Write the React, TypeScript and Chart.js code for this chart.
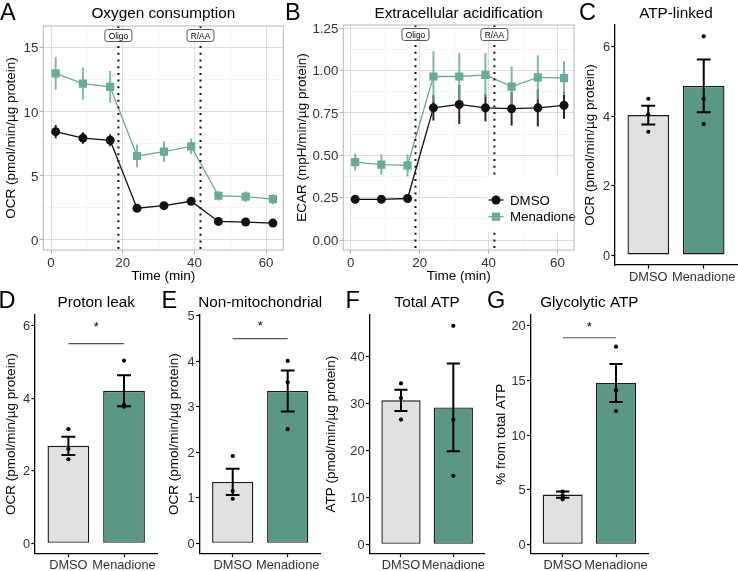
import React, { useEffect, useRef } from "react";
import { Chart, registerables } from "chart.js";

Chart.register(...registerables);

const W = 738;
const H = 571;
const FONT = "'Liberation Sans', Arial, Helvetica, sans-serif";
const TICK_COLOR = "#333333";

// ---------------- data ----------------
const groups = ["DMSO", "Menadione"];
const groupPos = [1, 2];

const timeMin = [1.3, 8.9, 16.5, 24.0, 31.5, 39.1, 46.7, 54.3, 61.9];
const injections = ["Oligo", "R/AA"];
const injectionTime = [18.8, 41.7];

const ocrDmso = [8.45, 7.95, 7.78, 2.48, 2.68, 3.02, 1.45, 1.4, 1.32];
const ocrDmsoSe = [0.52, 0.45, 0.47, 0.15, 0.15, 0.2, 0.12, 0.1, 0.1];
const ocrMena = [13.0, 12.2, 11.95, 6.55, 6.9, 7.3, 3.45, 3.38, 3.18];
const ocrMenaSe = [1.27, 1.25, 1.23, 0.88, 0.8, 0.6, 0.38, 0.4, 0.38];

const ecarDmso = [0.24, 0.24, 0.245, 0.78, 0.8, 0.78, 0.775, 0.78, 0.795];
const ecarDmsoSe = [0.012, 0.012, 0.012, 0.075, 0.115, 0.08, 0.1, 0.11, 0.08];
const ecarMena = [0.46, 0.445, 0.44, 0.965, 0.965, 0.975, 0.905, 0.96, 0.955];
const ecarMenaSe = [0.05, 0.06, 0.065, 0.15, 0.14, 0.13, 0.12, 0.13, 0.1];

const timeTicks = [0, 10, 20, 30, 40, 50, 60];
const ocrTicks = [0, 2.5, 5, 7.5, 10, 12.5, 15];
const ecarTicks = [0, 0.125, 0.25, 0.375, 0.5, 0.625, 0.75, 0.875, 1, 1.125, 1.25];

const atpLinkedMean = [4.03, 4.87];
const atpLinkedSe = [0.27, 0.76];
const atpLinkedDmsoPts = [4.5, 4.05, 3.55];
const atpLinkedMenaPts = [6.3, 4.5, 3.77];
const atpLinkedTicks = [0, 2, 4, 6];

const protonLeakMean = [2.69, 4.21];
const protonLeakSe = [0.25, 0.43];
const protonLeakDmsoPts = [3.15, 2.6, 2.32];
const protonLeakMenaPts = [5.04, 3.82, 3.77];
const protonLeakTicks = [0, 2, 4, 6];
const protonLeakSig = [5.51, 6.07];

const nonMitoMean = [1.35, 3.35];
const nonMitoSe = [0.29, 0.45];
const nonMitoDmsoPts = [1.92, 1.15, 0.98];
const nonMitoMenaPts = [4.01, 3.54, 2.51];
const nonMitoTicks = [0, 1, 2, 3, 4, 5];
const nonMitoSig = [4.5, 4.85];

const totalAtpMean = [30.7, 29.2];
const totalAtpSe = [2.25, 9.35];
const totalAtpDmsoPts = [34.3, 31.2, 26.6];
const totalAtpMenaPts = [46.6, 26.6, 14.6];
const totalAtpTicks = [0, 10, 20, 30, 40];

const glycoMean = [4.55, 14.76];
const glycoSe = [0.28, 1.74];
const glycoDmsoPts = [4.82, 4.45, 4.12];
const glycoMenaPts = [18.08, 14.09, 12.2];
const glycoTicks = [0, 5, 10, 15, 20];
const glycoSig = [18.9, 20.2];

// ---------------- styles ----------------
const DMSO_LINE = "#111111";
const MENA_LINE = "#69aa9a";
const DMSO_BAR = "#e1e2df";
const MENA_BAR = "#5a9787";

const panelA: any = {
  kind: "line",
  letter: "A", letterX: 0, letterY: 19.5,
  title: "Oxygen consumption", titleY: 17.5,
  yTitle: "OCR (pmol/min/µg protein)", yTitleX: 11.5,
  plot: { l: 43.3, t: 26, r: 283.3, b: 250 },
  xMin: -2.15, xMax: 64.8, yMin: -0.78, yMax: 16.69,
  xTicks: timeTicks, yTicks: ocrTicks,
  xMajor: (v: number) => v % 20 === 0,
  yMajor: (v: number) => v % 5 === 0,
  yFmt: (v: number) => String(v),
  series: [
    { name: "DMSO", y: ocrDmso, se: ocrDmsoSe, color: DMSO_LINE, err: "rgba(17,17,17,0.9)", shape: "circle" },
    { name: "Menadione", y: ocrMena, se: ocrMenaSe, color: MENA_LINE, err: "rgba(105,170,154,0.85)", shape: "rect" },
  ],
  legend: null,
};

const panelB: any = {
  kind: "line",
  letter: "B", letterX: 285, letterY: 19.5,
  title: "Extracellular acidification", titleY: 17.5,
  yTitle: "ECAR (mpH/min/µg protein)", yTitleX: 302,
  plot: { l: 343.3, t: 25, r: 574, b: 250 },
  xMin: -2.15, xMax: 64.8, yMin: -0.059, yMax: 1.269,
  xTicks: timeTicks, yTicks: ecarTicks,
  xMajor: (v: number) => v % 20 === 0,
  yMajor: (v: number) => Math.abs(v * 4 - Math.round(v * 4)) < 1e-9,
  yFmt: (v: number) => v.toFixed(2),
  series: [
    { name: "DMSO", y: ecarDmso, se: ecarDmsoSe, color: DMSO_LINE, err: "rgba(17,17,17,0.9)", shape: "circle" },
    { name: "Menadione", y: ecarMena, se: ecarMenaSe, color: MENA_LINE, err: "rgba(105,170,154,0.85)", shape: "rect" },
  ],
  legend: { x1: 487, y1: 175, x2: 573, y2: 231, symX: 496, textX: 510, rows: [200, 216.7] },
};

const panelC: any = {
  kind: "bar",
  letter: "C", letterX: 579, letterY: 19.5,
  title: "ATP-linked", titleY: 17.5,
  yTitle: "OCR (pmol/min/µg protein)", yTitleX: 590,
  plot: { l: 615, t: 25, r: 737, b: 265 },
  yMin: -0.288, yMax: 6.625, yTicks: atpLinkedTicks,
  means: atpLinkedMean, se: atpLinkedSe, pts: [atpLinkedDmsoPts, atpLinkedMenaPts], sig: null,
};

const panelD: any = {
  kind: "bar",
  letter: "D", letterX: -1.5, letterY: 308.3,
  title: "Proton leak", titleY: 307,
  yTitle: "OCR (pmol/min/µg protein)", yTitleX: 11.7,
  plot: { l: 35, t: 315, r: 157.4, b: 553.3 },
  yMin: -0.276, yMax: 6.3, yTicks: protonLeakTicks,
  means: protonLeakMean, se: protonLeakSe, pts: [protonLeakDmsoPts, protonLeakMenaPts], sig: protonLeakSig,
};

const panelE: any = {
  kind: "bar",
  letter: "E", letterX: 161.5, letterY: 308.3,
  title: "Non-mitochondrial", titleY: 307,
  yTitle: "OCR (pmol/min/µg protein)", yTitleX: 174,
  plot: { l: 199.7, t: 315, r: 320.7, b: 553.3 },
  yMin: -0.22, yMax: 5.02, yTicks: nonMitoTicks,
  means: nonMitoMean, se: nonMitoSe, pts: [nonMitoDmsoPts, nonMitoMenaPts], sig: nonMitoSig,
};

const panelF: any = {
  kind: "bar",
  letter: "F", letterX: 345.5, letterY: 308.3,
  title: "Total ATP", titleY: 307,
  yTitle: "ATP (pmol/min/µg protein)", yTitleX: 331.7,
  plot: { l: 369.6, t: 315, r: 484.7, b: 553.3 },
  yMin: -1.92, yMax: 48.9, yTicks: totalAtpTicks,
  means: totalAtpMean, se: totalAtpSe, pts: [totalAtpDmsoPts, totalAtpMenaPts], sig: null,
};

const panelG: any = {
  kind: "bar",
  letter: "G", letterX: 487, letterY: 308.3,
  title: "Glycolytic ATP", titleY: 307,
  yTitle: "% from total ATP", yTitleX: 501.7,
  plot: { l: 530.7, t: 315, r: 648, b: 553.3 },
  yMin: -0.82, yMax: 20.98, yTicks: glycoTicks,
  means: glycoMean, se: glycoSe, pts: [glycoDmsoPts, glycoMenaPts], sig: glycoSig,
};

const PANELS = [panelA, panelB, panelC, panelD, panelE, panelF, panelG];

// ---------------- drawing helpers ----------------
function drawText(ctx: any, s: string, x: number, y: number, size: number, align = "center", color = "#000", rot = 0, baseline = "alphabetic") {
  ctx.save();
  ctx.font = `${size}px ${FONT}`;
  ctx.fillStyle = color;
  ctx.textAlign = align;
  ctx.textBaseline = baseline;
  ctx.translate(x, y);
  if (rot) ctx.rotate(rot);
  ctx.fillText(s, 0, 0);
  ctx.restore();
}

function drawCommon(ctx: any, p: any) {
  drawText(ctx, p.letter, p.letterX, p.letterY, 23.5, "left");
  drawText(ctx, p.title, (p.plot.l + p.plot.r) / 2, p.titleY, 15.3);
  drawText(ctx, p.yTitle, p.yTitleX, (p.plot.t + p.plot.b) / 2, 13.5, "center", "#000", -Math.PI / 2, "middle");
}

function drawMarker(ctx: any, shape: string, x: number, y: number, color: string) {
  ctx.fillStyle = color;
  ctx.beginPath();
  if (shape === "circle") {
    ctx.arc(x, y, 4.5, 0, Math.PI * 2);
  } else {
    ctx.rect(x - 4.1, y - 4.1, 8.2, 8.2);
  }
  ctx.fill();
}

function roundRect(ctx: any, x: number, y: number, w: number, h: number, r: number) {
  ctx.beginPath();
  ctx.moveTo(x + r, y);
  ctx.lineTo(x + w - r, y);
  ctx.quadraticCurveTo(x + w, y, x + w, y + r);
  ctx.lineTo(x + w, y + h - r);
  ctx.quadraticCurveTo(x + w, y + h, x + w - r, y + h);
  ctx.lineTo(x + r, y + h);
  ctx.quadraticCurveTo(x, y + h, x, y + h - r);
  ctx.lineTo(x, y + r);
  ctx.quadraticCurveTo(x, y, x + r, y);
  ctx.closePath();
}

function linePlugin(p: any) {
  return {
    id: "decorLine",
    beforeDatasetsDraw(chart: any) {
      const ctx = chart.ctx;
      const xs = chart.scales.x;
      const ys = chart.scales.y;
      ctx.save();
      ctx.lineWidth = 2;
      p.series.forEach((s: any) => {
        ctx.strokeStyle = s.err;
        timeMin.forEach((t, i) => {
          const x = xs.getPixelForValue(t);
          ctx.beginPath();
          ctx.moveTo(x, ys.getPixelForValue(s.y[i] - s.se[i]));
          ctx.lineTo(x, ys.getPixelForValue(s.y[i] + s.se[i]));
          ctx.stroke();
        });
      });
      ctx.restore();
    },
    afterDatasetsDraw(chart: any) {
      const ctx = chart.ctx;
      const a = chart.chartArea;
      const xs = chart.scales.x;
      ctx.save();
      // injection lines
      ctx.strokeStyle = "#111";
      ctx.lineWidth = 2;
      ctx.setLineDash([2, 4.7]);
      injectionTime.forEach((t) => {
        const x = xs.getPixelForValue(t);
        ctx.beginPath();
        ctx.moveTo(x, a.top);
        ctx.lineTo(x, a.bottom);
        ctx.stroke();
      });
      ctx.setLineDash([]);
      // injection labels
      injections.forEach((lab, i) => {
        const x = xs.getPixelForValue(injectionTime[i]);
        const y = a.top + 9.5;
        roundRect(ctx, x - 13.5, y - 6, 27, 12, 2.5);
        ctx.fillStyle = "#fff";
        ctx.fill();
        ctx.strokeStyle = "#444";
        ctx.lineWidth = 0.9;
        ctx.stroke();
        drawText(ctx, lab, x, y + 3, 8.3);
      });
      // legend
      if (p.legend) {
        const L = p.legend;
        ctx.fillStyle = "#fff";
        ctx.fillRect(L.x1, L.y1, L.x2 - L.x1, L.y2 - L.y1);
        p.series.forEach((s: any, i: number) => {
          const y = L.rows[i];
          ctx.strokeStyle = s.color;
          ctx.lineWidth = 1.3;
          ctx.beginPath();
          ctx.moveTo(L.symX - 7.5, y);
          ctx.lineTo(L.symX + 7.5, y);
          ctx.stroke();
          drawMarker(ctx, s.shape, L.symX, y, s.color);
          drawText(ctx, s.name, L.textX, y + 4.7, 13.3, "left");
        });
      }
      // panel border
      ctx.strokeStyle = "#b8b8b8";
      ctx.lineWidth = 1;
      ctx.strokeRect(a.left, a.top, a.right - a.left, a.bottom - a.top);
      ctx.restore();
    },
    afterDraw(chart: any) {
      const ctx = chart.ctx;
      const xs = chart.scales.x;
      const ys = chart.scales.y;
      drawCommon(ctx, p);
      p.yTicks.forEach((v: number) => {
        if (p.yMajor(v)) drawText(ctx, p.yFmt(v), p.plot.l - 5, ys.getPixelForValue(v) + 0.358 * 13.3, 13.3, "right", TICK_COLOR);
      });
      p.xTicks.forEach((v: number) => {
        if (p.xMajor(v)) drawText(ctx, String(v), xs.getPixelForValue(v), p.plot.b + 16.5, 13.3, "center", TICK_COLOR);
      });
      drawText(ctx, "Time (min)", (p.plot.l + p.plot.r) / 2, p.plot.b + 30, 13.5);
    },
  };
}

function barPlugin(p: any) {
  return {
    id: "decorBar",
    afterDatasetsDraw(chart: any) {
      const ctx = chart.ctx;
      const xs = chart.scales.x;
      const ys = chart.scales.y;
      ctx.save();
      ctx.strokeStyle = "#000";
      ctx.lineWidth = 2;
      groupPos.forEach((g, i) => {
        const x = xs.getPixelForValue(g);
        const hw = xs.getPixelForValue(g + 0.125) - x;
        const yt = ys.getPixelForValue(p.means[i] + p.se[i]);
        const yb = ys.getPixelForValue(p.means[i] - p.se[i]);
        ctx.beginPath();
        ctx.moveTo(x, yt);
        ctx.lineTo(x, yb);
        ctx.moveTo(x - hw, yt);
        ctx.lineTo(x + hw, yt);
        ctx.moveTo(x - hw, yb);
        ctx.lineTo(x + hw, yb);
        ctx.stroke();
      });
      if (p.sig) {
        const x1 = xs.getPixelForValue(groupPos[0]);
        const x2 = xs.getPixelForValue(groupPos[1]);
        const y = ys.getPixelForValue(p.sig[0]);
        ctx.strokeStyle = "#555";
        ctx.lineWidth = 1.2;
        ctx.beginPath();
        ctx.moveTo(x1, y);
        ctx.lineTo(x2, y);
        ctx.stroke();
        drawText(ctx, "*", (x1 + x2) / 2, ys.getPixelForValue(p.sig[1]) + 0.575 * 13, 13);
      }
      ctx.restore();
    },
    afterDraw(chart: any) {
      const ctx = chart.ctx;
      const xs = chart.scales.x;
      const ys = chart.scales.y;
      drawCommon(ctx, p);
      p.yTicks.forEach((v: number) => {
        drawText(ctx, String(v), p.plot.l - 5, ys.getPixelForValue(v) + 0.358 * 12.8, 12.8, "right", TICK_COLOR);
      });
      groupPos.forEach((g, i) => {
        drawText(ctx, groups[i], xs.getPixelForValue(g), p.plot.b + 15.8, 12.8, "center", TICK_COLOR);
      });
    },
  };
}

function lineConfig(p: any): any {
  const datasets = p.series.map((s: any, k: number) => ({
    label: s.name,
    data: timeMin.map((t, i) => ({ x: t, y: s.y[i] })),
    borderColor: s.color,
    backgroundColor: s.color,
    borderWidth: 1.3,
    pointStyle: s.shape,
    pointRadius: s.shape === "circle" ? 4.5 : 5.8,
    pointBorderWidth: 0,
    pointBackgroundColor: s.color,
    tension: 0,
    order: p.series.length - 1 - k,
  }));
  const gridOpts = (isMajor: (v: number) => boolean) => ({
    display: true,
    drawOnChartArea: true,
    drawTicks: true,
    tickLength: 3.7,
    color: (c: any) => (c.tick && isMajor(c.tick.value) ? "#dedede" : "#eeeeee"),
    lineWidth: (c: any) => (c.tick && isMajor(c.tick.value) ? 1 : 0.6),
    tickColor: (c: any) => (c.tick && isMajor(c.tick.value) ? "#b3b3b3" : "rgba(0,0,0,0)"),
    tickWidth: 1,
  });
  return {
    type: "line",
    data: { datasets },
    options: {
      responsive: false,
      animation: false,
      events: [],
      layout: { autoPadding: false, padding: { left: 0, top: p.plot.t, right: W - p.plot.r, bottom: 0 } },
      plugins: { legend: { display: false }, tooltip: { enabled: false }, title: { display: false } },
      scales: {
        x: {
          type: "linear",
          min: p.xMin,
          max: p.xMax,
          afterBuildTicks: (s: any) => { s.ticks = p.xTicks.map((v: number) => ({ value: v })); },
          afterFit: (s: any) => { s.height = H - p.plot.b; },
          ticks: { display: false },
          grid: gridOpts(p.xMajor),
          border: { display: false },
        },
        y: {
          type: "linear",
          min: p.yMin,
          max: p.yMax,
          afterBuildTicks: (s: any) => { s.ticks = p.yTicks.map((v: number) => ({ value: v })); },
          afterFit: (s: any) => { s.width = p.plot.l; },
          ticks: { display: false },
          grid: gridOpts(p.yMajor),
          border: { display: false },
        },
      },
    },
    plugins: [linePlugin(p)],
  };
}

function barConfig(p: any): any {
  const pts: any[] = [];
  p.pts.forEach((arr: number[], i: number) => arr.forEach((v) => pts.push({ x: groupPos[i], y: v })));
  const axisGrid = {
    display: true,
    drawOnChartArea: false,
    drawTicks: true,
    tickLength: 3.7,
    tickColor: "#000",
    tickWidth: 1.2,
    color: "#000",
    offset: false,
  };
  return {
    type: "bar",
    data: {
      datasets: [
        {
          type: "bar",
          data: groupPos.map((g, i) => ({ x: g, y: p.means[i] })),
          backgroundColor: [DMSO_BAR, MENA_BAR],
          borderColor: "#1a1a1a",
          borderWidth: 1.4,
          borderSkipped: false,
          barPercentage: 0.75,
          categoryPercentage: 1,
          order: 1,
        },
        {
          type: "scatter",
          data: pts,
          pointRadius: 2.1,
          pointBorderWidth: 0,
          pointBackgroundColor: "#000",
          backgroundColor: "#000",
          showLine: false,
          order: 0,
        },
      ],
    },
    options: {
      responsive: false,
      animation: false,
      events: [],
      layout: { autoPadding: false, padding: { left: 0, top: p.plot.t, right: W - p.plot.r, bottom: 0 } },
      plugins: { legend: { display: false }, tooltip: { enabled: false }, title: { display: false } },
      scales: {
        x: {
          type: "linear",
          offset: false,
          min: 0.4,
          max: 2.6,
          afterBuildTicks: (s: any) => { s.ticks = groupPos.map((v) => ({ value: v })); },
          afterFit: (s: any) => { s.height = H - p.plot.b; },
          ticks: { display: false },
          grid: axisGrid,
          border: { display: true, color: "#000", width: 1.3 },
        },
        y: {
          type: "linear",
          min: p.yMin,
          max: p.yMax,
          afterBuildTicks: (s: any) => { s.ticks = p.yTicks.map((v: number) => ({ value: v })); },
          afterFit: (s: any) => { s.width = p.plot.l; },
          ticks: { display: false },
          grid: axisGrid,
          border: { display: true, color: "#000", width: 1.3 },
        },
      },
    },
    plugins: [barPlugin(p)],
  };
}

export default function App() {
  const refs = useRef<(HTMLCanvasElement | null)[]>([]);
  useEffect(() => {
    const charts = PANELS.map((p, i) => {
      const cv = refs.current[i] as HTMLCanvasElement;
      return new Chart(cv, p.kind === "line" ? lineConfig(p) : barConfig(p));
    });
    return () => charts.forEach((c) => c.destroy());
  }, []);
  return (
    <div style={{ position: "absolute", left: 0, top: 0, width: W, height: H, background: "#fff", overflow: "hidden" }}>
      {PANELS.map((p, i) => (
        <canvas
          key={i}
          ref={(el) => { refs.current[i] = el; }}
          width={W}
          height={H}
          style={{ position: "absolute", left: 0, top: 0, width: W, height: H }}
        />
      ))}
    </div>
  );
}
